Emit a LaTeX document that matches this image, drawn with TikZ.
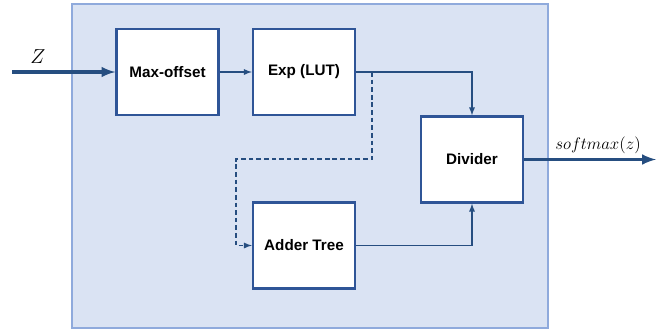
\documentclass[tikz,border=0pt]{standalone}
\usepackage{fontspec}
\setmainfont{Liberation Sans}
\usepackage{tikz}
\usetikzlibrary{positioning}
\definecolor{panelfill}{RGB}{218,227,243}
\definecolor{paneledge}{RGB}{143,170,220}
\definecolor{boxedge}{RGB}{47,85,151}
\definecolor{wire}{RGB}{38,78,128}
\tikzset{block/.style = {draw=boxedge, fill=white, line width=2pt, minimum width=30.6mm, minimum height=25.8mm, inner sep=0pt, font=\bfseries\fontsize{13}{15}\selectfont}}
\tikzset{signal/.style = {->, draw=wire, line width=1.3pt}}
\tikzset{bigsignal/.style = {->, draw=wire, line width=3pt}}
\tikzset{tapline/.style = {->, draw=wire, line width=1.3pt, dash pattern=on 4pt off 2.5pt}}

\begin{document}
\begin{tikzpicture}[x=0.3mm, y=-0.3mm, >=latex]
  \useasboundingbox (0,0) rectangle (666,331);
  \draw [fill=panelfill, draw=paneledge, line width=1pt] (72,4) rectangle (548,328);

  \node [block] (maxoff) at (167.5,72) {Max-offset};
  \node [block] (expl) at (304,72) {Exp (LUT)};
  \node [block] (divider) at (472,159.5) {Divider};
  \node [block] (adder) at (304,245.5) {Adder Tree};

  \coordinate (zin) at (12,72);
  \coordinate (smout) at (656,159.5);
  \coordinate (tap) at (372,72);
  \coordinate (bend) at (236,159);

  \node (zlab) at (38,57) {\LARGE $Z$};
  \node (smlab) at (598,145) {\Large $softmax(z)$};

  \path [bigsignal] (zin) -- (maxoff);
  \path [signal] (maxoff) -- (expl);
  \path [signal] (expl.east) -| (divider.north);
  \path [tapline] (tap) |- (bend) |- (adder.west);
  \path [signal] (adder.east) -| (divider.south);
  \path [bigsignal] (divider) -- (smout);
\end{tikzpicture}
\end{document}
